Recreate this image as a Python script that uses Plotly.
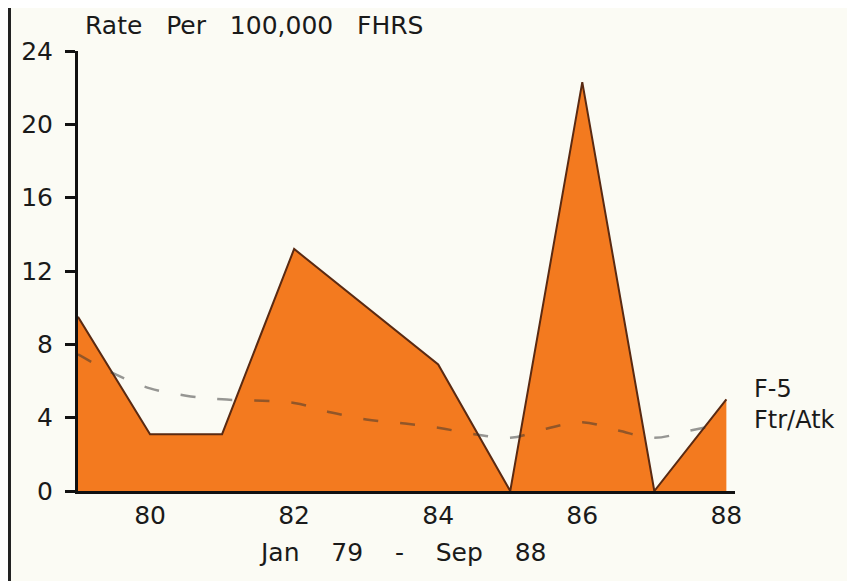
import plotly.graph_objects as go

# F-5 Ftr/Atk rate per 100,000 flight hours
years = [79, 80, 81, 82, 84, 85, 86, 87, 88]
f5_rate = [9.5, 3.1, 3.1, 13.2, 6.9, 0.0, 22.3, 0.0, 5.0]

# Ftr/Atk comparison (dashed)
trend_years = [79, 79.5, 80, 80.5, 81, 82, 82.5, 83, 83.5, 84, 84.5, 85, 85.5, 86, 86.5, 87, 87.5, 88]
trend_rate = [7.45, 6.4, 5.6, 5.2, 5.0, 4.8, 4.3, 3.9, 3.7, 3.45, 3.1, 2.9, 3.4, 3.75, 3.3, 2.9, 3.3, 3.7]

x_ticks = [80, 82, 84, 86, 88]
x_tick_labels = ["80", "82", "84", "86", "88"]
y_ticks = [0, 4, 8, 12, 16, 20, 24]

FONT = "DejaVu Sans"
BG = "#FBFBF4"
OFF = 8  # browser page margin
W, H = 855 - OFF, 581 - OFF
L, R, T, B = 70, 120, 43, 90
PW, PH = W - L - R, H - T - B
SP = "\u00a0\u00a0 "
SP2 = "\u00a0\u00a0\u00a0 "

fig = go.Figure()
fig.add_trace(go.Scatter(
    x=years, y=f5_rate, mode="lines", fill="tozeroy",
    fillcolor="#F37A1F", line=dict(color="#5A2A12", width=2),
    hoverinfo="x+y", showlegend=False,
))
fig.add_trace(go.Scatter(
    x=trend_years, y=trend_rate, mode="lines",
    line=dict(color="rgba(50,50,50,0.5)", width=2.5, dash="15px,22px", shape="spline", smoothing=1),
    showlegend=False,
))

def px_x(p):
    return (p - OFF - L) / PW

def px_y(p):
    return (H - B - (p - OFF)) / PH

fig.update_layout(
    width=W, height=H,
    margin=dict(l=L, r=R, t=T, b=B, autoexpand=False),
    paper_bgcolor=BG, plot_bgcolor=BG,
    font=dict(family=FONT, size=25, color="#1a1a1a"),
    xaxis=dict(
        range=[79, 88.12], tickvals=x_ticks, ticktext=x_tick_labels,
        showgrid=False, zeroline=False, showline=True, linecolor="#111", linewidth=3,
        ticks="", ticklabelstandoff=0, tickfont=dict(size=25), automargin=False,
    ),
    yaxis=dict(
        range=[0, 24], tickvals=y_ticks,
        showgrid=False, zeroline=False, showline=True, linecolor="#111", linewidth=3,
        ticks="outside", ticklen=10, tickwidth=3, tickcolor="#111",
        ticklabelstandoff=7, tickfont=dict(size=25), automargin=False,
    ),
    shapes=[dict(type="line", xref="paper", yref="paper",
                 x0=-L / PW + 1.5 / PW, x1=-L / PW + 1.5 / PW, y0=-B / PH, y1=1 + T / PH,
                 line=dict(color="#222", width=3))],
    annotations=[
        dict(text=f"Rate{SP}Per{SP}100,000{SP}FHRS", xref="paper", yref="paper",
             x=px_x(83), y=px_y(25), xanchor="left", yanchor="middle",
             showarrow=False, font=dict(size=25)),
        dict(text=f"Jan{SP2}79{SP2}-{SP2}Sep{SP2}88", xref="paper", yref="paper",
             x=px_x(402), y=px_y(552), xanchor="center", yanchor="middle",
             showarrow=False, font=dict(size=25)),
        dict(text="F-5<br>Ftr/Atk", xref="paper", yref="paper",
             x=px_x(752), y=px_y(404), xanchor="left", yanchor="middle", align="left",
             showarrow=False, font=dict(size=24)),
    ],
)

fig.write_html("out.html")
